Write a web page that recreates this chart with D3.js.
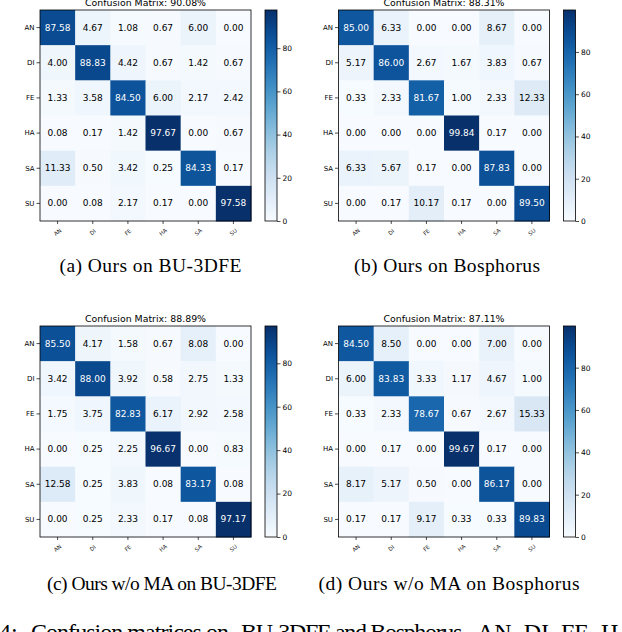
<!DOCTYPE html>
<html><head><meta charset="utf-8">
<script src="https://cdn.jsdelivr.net/npm/d3@7"></script>
<style>body{margin:0;background:#fff}svg{display:block}</style>
</head><body>
<script>
const categories = ["AN","DI","FE","HA","SA","SU"];
const cbTicks = [0,20,40,60,80];

const matA = [
 [87.58,4.67,1.08,0.67,6.00,0.00],
 [4.00,88.83,4.42,0.67,1.42,0.67],
 [1.33,3.58,84.50,6.00,2.17,2.42],
 [0.08,0.17,1.42,97.67,0.00,0.67],
 [11.33,0.50,3.42,0.25,84.33,0.17],
 [0.00,0.08,2.17,0.17,0.00,97.58]];
const matB = [
 [85.00,6.33,0.00,0.00,8.67,0.00],
 [5.17,86.00,2.67,1.67,3.83,0.67],
 [0.33,2.33,81.67,1.00,2.33,12.33],
 [0.00,0.00,0.00,99.84,0.17,0.00],
 [6.33,5.67,0.17,0.00,87.83,0.00],
 [0.00,0.17,10.17,0.17,0.00,89.50]];
const matC = [
 [85.50,4.17,1.58,0.67,8.08,0.00],
 [3.42,88.00,3.92,0.58,2.75,1.33],
 [1.75,3.75,82.83,6.17,2.92,2.58],
 [0.00,0.25,2.25,96.67,0.00,0.83],
 [12.58,0.25,3.83,0.08,83.17,0.08],
 [0.00,0.25,2.33,0.17,0.08,97.17]];
const matD = [
 [84.50,8.50,0.00,0.00,7.00,0.00],
 [6.00,83.83,3.33,1.17,4.67,1.00],
 [0.33,2.33,78.67,0.67,2.67,15.33],
 [0.00,0.17,0.00,99.67,0.17,0.00],
 [8.17,5.17,0.50,0.00,86.17,0.00],
 [0.17,0.17,9.17,0.33,0.33,89.83]];
const accuracies = ["90.08%","88.31%","88.89%","87.11%"];
const captions = ["(a) Ours on BU-3DFE","(b) Ours on Bosphorus","(c) Ours w/o MA on BU-3DFE","(d) Ours w/o MA on Bosphorus"];

const W = 622, H = 632;
const svg = d3.select("body").append("svg").attr("width", W).attr("height", H);
const FONT = "DejaVu Sans, sans-serif";
const SIZE = 211;

function panel(data, acc, x0, y0, idx) {
  const g = svg.append("g");
  const x = d3.scaleBand().domain(categories).range([x0, x0 + SIZE]);
  const y = d3.scaleBand().domain(categories).range([y0, y0 + SIZE]);
  const flat = data.flat();
  const vmin = d3.min(flat), vmax = d3.max(flat);
  const color = d3.scaleSequential(d3.interpolateBlues).domain([vmin, vmax]);
  const cells = [];
  data.forEach((row, i) => row.forEach((v, j) => cells.push({r: categories[i], c: categories[j], v})));
  g.selectAll("rect.cell").data(cells).join("rect")
    .attr("x", d => x(d.c)).attr("y", d => y(d.r))
    .attr("width", x.bandwidth() + 0.5).attr("height", y.bandwidth() + 0.5)
    .attr("fill", d => color(d.v));
  g.selectAll("text.val").data(cells).join("text")
    .attr("x", d => x(d.c) + x.bandwidth() / 2).attr("y", d => y(d.r) + y.bandwidth() / 2)
    .attr("text-anchor", "middle").attr("dominant-baseline", "central")
    .attr("font-family", FONT).attr("font-size", 9)
    .attr("fill", d => d.v > vmax / 2 ? "#fff" : "#000")
    .text(d => d.v.toFixed(2));
  g.append("rect").attr("x", x0).attr("y", y0).attr("width", SIZE).attr("height", SIZE)
    .attr("fill", "none").attr("stroke", "#000").attr("stroke-width", 0.8);
  // title
  g.append("text").attr("x", x0 + SIZE / 2).attr("y", y0 - 4).attr("text-anchor", "middle")
    .attr("font-family", FONT).attr("font-size", 9.4).text("Confusion Matrix: " + acc);
  // y axis
  const ya = g.append("g").attr("transform", `translate(${x0},0)`)
    .call(d3.axisLeft(y).tickSize(3.5).tickPadding(2));
  ya.select(".domain").remove();
  ya.selectAll("line").attr("stroke", "#000").attr("stroke-width", 0.7);
  ya.selectAll("text").attr("font-family", FONT).attr("font-size", 7).attr("fill", "#000");
  // x axis
  const xa = g.append("g").attr("transform", `translate(0,${y0 + SIZE})`)
    .call(d3.axisBottom(x).tickSize(3).tickFormat(""));
  xa.select(".domain").remove();
  xa.selectAll("line").attr("stroke", "#000").attr("stroke-width", 0.7);
  g.selectAll("text.xl").data(categories).join("text")
    .attr("transform", d => `translate(${x(d) + x.bandwidth() / 2},${y0 + SIZE + 11}) rotate(-40)`)
    .attr("text-anchor", "middle").attr("dominant-baseline", "central")
    .attr("font-family", FONT).attr("font-size", 5.5).attr("fill", "#222").text(d => d);
  // colorbar
  const cx = x0 + 225, cw = 12;
  const cy = d3.scaleLinear().domain([vmin, vmax]).range([y0 + SIZE, y0]);
  const gid = "grad" + idx;
  const grad = svg.append("defs").append("linearGradient").attr("id", gid)
    .attr("x1", 0).attr("y1", 1).attr("x2", 0).attr("y2", 0);
  d3.range(0, 1.0001, 0.05).forEach(t => grad.append("stop")
    .attr("offset", t).attr("stop-color", color(vmin + t * (vmax - vmin))));
  g.append("rect").attr("x", cx).attr("y", y0).attr("width", cw).attr("height", SIZE)
    .attr("fill", `url(#${gid})`).attr("stroke", "#000").attr("stroke-width", 0.8);
  const ca = g.append("g").attr("transform", `translate(${cx + cw},0)`)
    .call(d3.axisRight(cy).tickValues(cbTicks).tickSize(3.5).tickPadding(2));
  ca.select(".domain").remove();
  ca.selectAll("line").attr("stroke", "#000").attr("stroke-width", 0.7);
  ca.selectAll("text").attr("font-family", FONT).attr("font-size", 7.5).attr("fill", "#000");
}

panel(matA, accuracies[0], 40, 10, 0);
panel(matB, accuracies[1], 338.5, 10, 1);
panel(matC, accuracies[2], 40, 326, 2);
panel(matD, accuracies[3], 338.5, 326, 3);

const SERIF = "Liberation Serif, Times New Roman, serif";
const capPos = [[59.5, 272, 182], [354, 272, 186], [47, 590, 230], [318.5, 590, 261]];
captions.forEach((t, i) => {
  svg.append("text").attr("x", capPos[i][0]).attr("y", capPos[i][1])
    .attr("font-family", SERIF).attr("font-size", 19.5)
    .attr("textLength", capPos[i][2]).attr("lengthAdjust", "spacing").text(t);
});
// figure caption line (cut at bottom)
const figParts = [["4:", -1], ["Confusion matrices on", 31], ["BU-3DFE and Bosphorus.", 241], ["AN, DI, FE, HA,", 477]];
const figLens = [null, 198, 226, null];
figParts.forEach((p, i) => {
  const t = svg.append("text").attr("x", p[1]).attr("y", 640)
    .attr("font-family", SERIF).attr("font-size", 24).text(p[0]);
  if (figLens[i]) t.attr("textLength", figLens[i]).attr("lengthAdjust", "spacing");
});
</script>
</body></html>
